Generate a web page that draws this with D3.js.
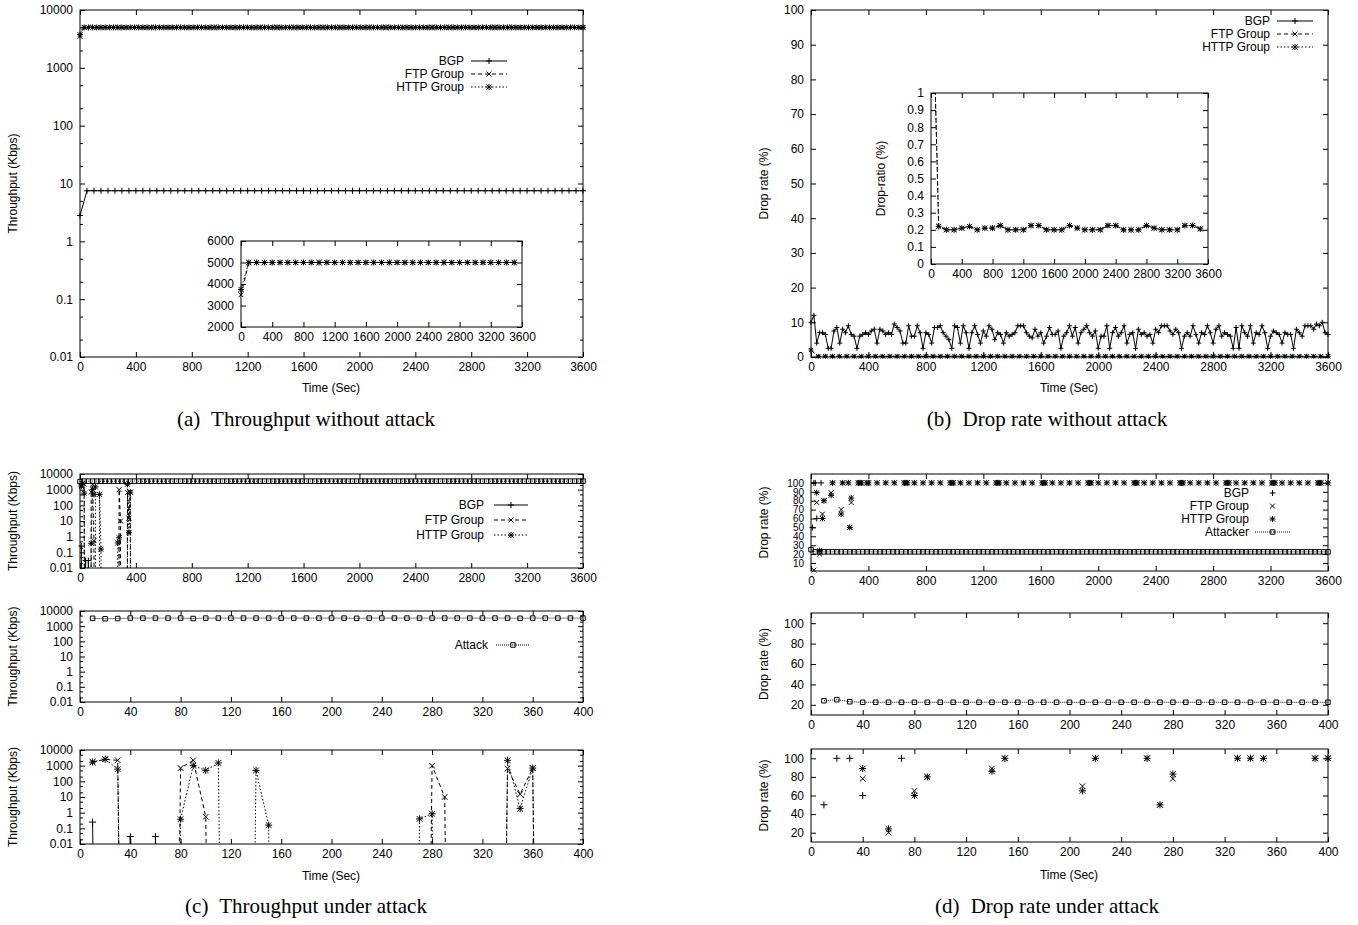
<!DOCTYPE html>
<html>
<head>
<meta charset="utf-8">
<script src="https://cdn.jsdelivr.net/npm/d3@7"></script>
<style>
  body { margin: 0; background: #fff; }
  svg text { font-family: "Liberation Sans", Arial, sans-serif; font-size: 12px; fill: #000; }
  svg text.cap { font-family: "Liberation Serif", "Times New Roman", serif; font-size: 21px; }
  svg .small text { font-size: 10px; }
</style>
</head>
<body>
<svg id="fig" width="1358" height="925"></svg>
<script>
// ---------- tick labels ----------
const ticks3600 = [0, 400, 800, 1200, 1600, 2000, 2400, 2800, 3200, 3600];
const ticks400 = [0, 40, 80, 120, 160, 200, 240, 280, 320, 360, 400];
const ticksLog = [0.01, 0.1, 1, 10, 100, 1000, 10000];
const ticksInsetA = [2000, 3000, 4000, 5000, 6000];
const ticksPct10 = [0, 10, 20, 30, 40, 50, 60, 70, 80, 90, 100];
const ticksInsetB = [0, 0.1, 0.2, 0.3, 0.4, 0.5, 0.6, 0.7, 0.8, 0.9, 1];
const ticksPctTop = [10, 20, 30, 40, 50, 60, 70, 80, 90, 100];
const ticksPct20 = [20, 40, 60, 80, 100];

// ---------- (a) throughput without attack ----------
const timeA50 = d3.range(0, 3601, 50);
const bgpA = [2.8, 7.5, 7.5, 7.5, 7.5, 7.5, 7.5, 7.5, 7.5, 7.5, 7.5, 7.5, 7.5, 7.5, 7.5, 7.5, 7.5, 7.5, 7.5, 7.5,
  7.5, 7.5, 7.5, 7.5, 7.5, 7.5, 7.5, 7.5, 7.5, 7.5, 7.5, 7.5, 7.5, 7.5, 7.5, 7.5, 7.5, 7.5, 7.5, 7.5,
  7.5, 7.5, 7.5, 7.5, 7.5, 7.5, 7.5, 7.5, 7.5, 7.5, 7.5, 7.5, 7.5, 7.5, 7.5, 7.5, 7.5, 7.5, 7.5, 7.5,
  7.5, 7.5, 7.5, 7.5, 7.5, 7.5, 7.5, 7.5, 7.5, 7.5, 7.5, 7.5, 7.5];
const timeA30 = d3.range(0, 3601, 30);
const ftpA = [3500, 5000, 5000, 5000, 5000, 5000, 5000, 5000, 5000, 5000, 5000, 5000, 5000, 5000, 5000, 5000, 5000, 5000, 5000, 5000,
  5000, 5000, 5000, 5000, 5000, 5000, 5000, 5000, 5000, 5000, 5000, 5000, 5000, 5000, 5000, 5000, 5000, 5000, 5000, 5000,
  5000, 5000, 5000, 5000, 5000, 5000, 5000, 5000, 5000, 5000, 5000, 5000, 5000, 5000, 5000, 5000, 5000, 5000, 5000, 5000,
  5000, 5000, 5000, 5000, 5000, 5000, 5000, 5000, 5000, 5000, 5000, 5000, 5000, 5000, 5000, 5000, 5000, 5000, 5000, 5000,
  5000, 5000, 5000, 5000, 5000, 5000, 5000, 5000, 5000, 5000, 5000, 5000, 5000, 5000, 5000, 5000, 5000, 5000, 5000, 5000,
  5000, 5000, 5000, 5000, 5000, 5000, 5000, 5000, 5000, 5000, 5000, 5000, 5000, 5000, 5000, 5000, 5000, 5000, 5000, 5000, 5000];
const httpA = [3750, 5000, 5000, 5000, 5000, 5000, 5000, 5000, 5000, 5000, 5000, 5000, 5000, 5000, 5000, 5000, 5000, 5000, 5000, 5000,
  5000, 5000, 5000, 5000, 5000, 5000, 5000, 5000, 5000, 5000, 5000, 5000, 5000, 5000, 5000, 5000, 5000, 5000, 5000, 5000,
  5000, 5000, 5000, 5000, 5000, 5000, 5000, 5000, 5000, 5000, 5000, 5000, 5000, 5000, 5000, 5000, 5000, 5000, 5000, 5000,
  5000, 5000, 5000, 5000, 5000, 5000, 5000, 5000, 5000, 5000, 5000, 5000, 5000, 5000, 5000, 5000, 5000, 5000, 5000, 5000,
  5000, 5000, 5000, 5000, 5000, 5000, 5000, 5000, 5000, 5000, 5000, 5000, 5000, 5000, 5000, 5000, 5000, 5000, 5000, 5000,
  5000, 5000, 5000, 5000, 5000, 5000, 5000, 5000, 5000, 5000, 5000, 5000, 5000, 5000, 5000, 5000, 5000, 5000, 5000, 5000, 5000];
// inset of (a)
const timeInset = d3.range(0, 3501, 100);
const ftpInsetA = [3500, 5000, 5000, 5000, 5000, 5000, 5000, 5000, 5000, 5000, 5000, 5000, 5000, 5000, 5000, 5000, 5000, 5000,
  5000, 5000, 5000, 5000, 5000, 5000, 5000, 5000, 5000, 5000, 5000, 5000, 5000, 5000, 5000, 5000, 5000, 5000];
const httpInsetA = [3750, 5000, 5000, 5000, 5000, 5000, 5000, 5000, 5000, 5000, 5000, 5000, 5000, 5000, 5000, 5000, 5000, 5000,
  5000, 5000, 5000, 5000, 5000, 5000, 5000, 5000, 5000, 5000, 5000, 5000, 5000, 5000, 5000, 5000, 5000, 5000];

// ---------- (b) drop rate without attack ----------
const timeB20 = d3.range(0, 3601, 20);
const bgpB = [10, 12, 4, 7, 7, 6.5, 2.5, 2.5, 7.5, 8.5, 4, 8, 7, 9, 6.5, 6, 2.5, 6, 6.5, 7,
  6.5, 7.5, 8, 4, 8, 7.5, 6.5, 7, 6.5, 9.5, 8.5, 7.5, 4, 4, 9, 6, 6, 9, 7, 2.5,
  7, 6.5, 4, 8.5, 8.5, 9, 7, 6, 5, 2.5, 9, 8.5, 4, 9, 7, 2.5, 7, 9, 6.5, 4,
  7.5, 6, 9, 8, 5, 7, 6.5, 4, 7, 6, 6.5, 7, 9, 9, 9, 7, 6, 5.5, 8, 6,
  7, 4, 6, 8.5, 6.5, 6.5, 7.5, 2.5, 6, 7, 9, 6, 8.5, 4, 7, 8, 9, 7, 6, 7.5,
  2.5, 6, 6, 9, 2.5, 7, 8.5, 6, 7, 9, 4, 6.5, 7, 2.5, 8, 6.5, 7, 6, 6.5, 4,
  8, 7, 9, 9, 9, 7.5, 6.5, 8, 7, 2.5, 6, 7, 6, 9, 6.5, 4, 7, 6.5, 9, 7,
  4, 8, 9, 6, 7, 6.5, 6, 2.5, 8.5, 2.5, 9, 7, 6, 9, 4, 7, 6.5, 9, 7, 2.5,
  6, 7.5, 7, 6.5, 4, 7, 6.5, 6.5, 2.5, 8, 7, 6, 9, 9, 9, 8, 9.5, 9, 10, 7, 6.5];
const timeB50 = d3.range(0, 3601, 50);
const ftpB = [2, 0.2, 0.2, 0.2, 0.2, 0.2, 0.2, 0.2, 0.2, 0.2, 0.2, 0.2, 0.2, 0.2, 0.2, 0.2, 0.2, 0.2, 0.2, 0.2,
  0.2, 0.2, 0.2, 0.2, 0.2, 0.2, 0.2, 0.2, 0.2, 0.2, 0.2, 0.2, 0.2, 0.2, 0.2, 0.2, 0.2, 0.2, 0.2, 0.2,
  0.2, 0.2, 0.2, 0.2, 0.2, 0.2, 0.2, 0.2, 0.2, 0.2, 0.2, 0.2, 0.2, 0.2, 0.2, 0.2, 0.2, 0.2, 0.2, 0.2,
  0.2, 0.2, 0.2, 0.2, 0.2, 0.2, 0.2, 0.2, 0.2, 0.2, 0.2, 0.2, 0.2];
const httpB = [2, 0.2, 0.2, 0.2, 0.2, 0.2, 0.2, 0.2, 0.2, 0.2, 0.2, 0.2, 0.2, 0.2, 0.2, 0.2, 0.2, 0.2, 0.2, 0.2,
  0.2, 0.2, 0.2, 0.2, 0.2, 0.2, 0.2, 0.2, 0.2, 0.2, 0.2, 0.2, 0.2, 0.2, 0.2, 0.2, 0.2, 0.2, 0.2, 0.2,
  0.2, 0.2, 0.2, 0.2, 0.2, 0.2, 0.2, 0.2, 0.2, 0.2, 0.2, 0.2, 0.2, 0.2, 0.2, 0.2, 0.2, 0.2, 0.2, 0.2,
  0.2, 0.2, 0.2, 0.2, 0.2, 0.2, 0.2, 0.2, 0.2, 0.2, 0.2, 0.2, 0.2];
// inset of (b)
const ftpInsetB = [2, 0.22, 0.2, 0.2, 0.21, 0.22, 0.2, 0.21, 0.21, 0.225, 0.2, 0.2, 0.2, 0.225, 0.225, 0.2, 0.2, 0.2,
  0.225, 0.21, 0.2, 0.2, 0.2, 0.225, 0.225, 0.2, 0.2, 0.2, 0.225, 0.21, 0.2, 0.2, 0.2, 0.225, 0.225, 0.205];
const httpInsetB = [2, 0.22, 0.2, 0.2, 0.21, 0.22, 0.2, 0.21, 0.21, 0.225, 0.2, 0.2, 0.2, 0.225, 0.225, 0.2, 0.2, 0.2,
  0.225, 0.21, 0.2, 0.2, 0.2, 0.225, 0.225, 0.2, 0.2, 0.2, 0.225, 0.21, 0.2, 0.2, 0.2, 0.225, 0.225, 0.205];

// ---------- (c) throughput under attack (0 = nothing received) ----------
const timeC10 = d3.range(10, 401, 10);
const bgpC = [0.25, 0, 0, 0.03, 0, 0.03, 0, 0, 0, 0, 0, 0, 0, 0, 0, 0, 0, 0, 0, 0,
  0, 0, 0, 0, 0, 0, 0, 0, 0, 0, 0, 0, 0, 0, 0, 0, 0, 0, 0, 0];
const ftpC = [1700, 2500, 2200, 0, 0, 0, 0, 700, 2200, 0.55, 0, 0, 0, 0, 0, 0, 0, 0, 0, 0,
  0, 0, 0, 0, 0, 0, 0, 1000, 10, 0, 0, 0, 0, 650, 15, 700, 0, 0, 0, 0];
const httpC = [1700, 2600, 600, 0, 0, 0, 0, 0.38, 1000, 500, 1500, 0, 0, 500, 0.16, 0, 0, 0, 0, 0,
  0, 0, 0, 0, 0, 0, 0.4, 0.85, 0, 0, 0, 0, 0, 2200, 1.8, 700, 0, 0, 0, 0];
const attackC = [3300, 3100, 3200, 3400, 3400, 3400, 3400, 3400, 3200, 3400, 3400, 3400, 3400, 3400, 3400, 3400, 3400, 3400, 3400, 3400,
  3400, 3300, 3400, 3400, 3400, 3400, 3400, 3400, 3400, 3400, 3400, 3400, 3400, 3400, 3300, 3400, 3400, 3400, 3400, 3400];
const timeTop30 = d3.range(0, 3601, 30);
const attackCTop = [3300, 3500, 3500, 3500, 3500, 3500, 3500, 3500, 3500, 3500, 3500, 3500, 3500, 3500, 3500, 3500, 3500, 3500, 3500, 3500,
  3500, 3500, 3500, 3500, 3500, 3500, 3500, 3500, 3500, 3500, 3500, 3500, 3500, 3500, 3500, 3500, 3500, 3500, 3500, 3500,
  3500, 3500, 3500, 3500, 3500, 3500, 3500, 3500, 3500, 3500, 3500, 3500, 3500, 3500, 3500, 3500, 3500, 3500, 3500, 3500,
  3500, 3500, 3500, 3500, 3500, 3500, 3500, 3500, 3500, 3500, 3500, 3500, 3500, 3500, 3500, 3500, 3500, 3500, 3500, 3500,
  3500, 3500, 3500, 3500, 3500, 3500, 3500, 3500, 3500, 3500, 3500, 3500, 3500, 3500, 3500, 3500, 3500, 3500, 3500, 3500,
  3500, 3500, 3500, 3500, 3500, 3500, 3500, 3500, 3500, 3500, 3500, 3500, 3500, 3500, 3500, 3500, 3500, 3500, 3500, 3500, 3500];

// ---------- (d) drop rate under attack, [time, %] ----------
const dropBgpD = [[10, 50], [20, 100], [30, 100], [40, 60], [70, 100]];
const dropFtpD = [[20, 2], [40, 78], [60, 20], [80, 65], [90, 80], [140, 89], [150, 100], [210, 70], [220, 100],
  [260, 100], [270, 50], [280, 78], [330, 100], [340, 100], [350, 100], [390, 100], [400, 100]];
const dropHttpD = [[40, 89], [60, 24], [80, 60], [90, 80], [140, 86], [150, 100], [210, 65], [220, 100],
  [260, 100], [270, 50], [280, 83], [330, 100], [340, 100], [350, 100], [390, 100], [400, 100]];
// after 400 s both groups lose everything
const dropSaturated = [[460, 100], [520, 100], [580, 100], [650, 100], [660, 100], [670, 100], [720, 100], [780, 100],
  [840, 100], [900, 100], [970, 100], [980, 100], [990, 100], [1040, 100], [1100, 100], [1160, 100], [1220, 100],
  [1290, 100], [1300, 100], [1310, 100], [1360, 100], [1420, 100], [1480, 100], [1540, 100], [1610, 100], [1620, 100],
  [1630, 100], [1680, 100], [1740, 100], [1800, 100], [1860, 100], [1930, 100], [1940, 100], [1950, 100], [2000, 100],
  [2060, 100], [2120, 100], [2180, 100], [2250, 100], [2260, 100], [2270, 100], [2320, 100], [2380, 100], [2440, 100],
  [2500, 100], [2570, 100], [2580, 100], [2590, 100], [2640, 100], [2700, 100], [2760, 100], [2820, 100], [2890, 100],
  [2900, 100], [2910, 100], [2960, 100], [3020, 100], [3080, 100], [3140, 100], [3210, 100], [3220, 100], [3230, 100],
  [3280, 100], [3340, 100], [3400, 100], [3460, 100], [3530, 100], [3540, 100], [3550, 100], [3600, 100]];
const attackerD = [24, 25, 23, 22.5, 22.5, 22.5, 22.5, 22.5, 22.5, 22.5, 22.5, 22.5, 22.5, 22.5, 22.5, 22.5, 22.5, 22.5, 22.5, 22.5,
  22.5, 22.5, 22.5, 22.5, 22.5, 22.5, 22.5, 22.5, 22.5, 22.5, 22.5, 22.5, 22.5, 22.5, 22.5, 22.5, 22.5, 22.5, 22.5, 22.5];
const attackerDTop = [25, 22.5, 22.5, 22.5, 22.5, 22.5, 22.5, 22.5, 22.5, 22.5, 22.5, 22.5, 22.5, 22.5, 22.5, 22.5, 22.5, 22.5, 22.5, 22.5,
  22.5, 22.5, 22.5, 22.5, 22.5, 22.5, 22.5, 22.5, 22.5, 22.5, 22.5, 22.5, 22.5, 22.5, 22.5, 22.5, 22.5, 22.5, 22.5, 22.5,
  22.5, 22.5, 22.5, 22.5, 22.5, 22.5, 22.5, 22.5, 22.5, 22.5, 22.5, 22.5, 22.5, 22.5, 22.5, 22.5, 22.5, 22.5, 22.5, 22.5,
  22.5, 22.5, 22.5, 22.5, 22.5, 22.5, 22.5, 22.5, 22.5, 22.5, 22.5, 22.5, 22.5, 22.5, 22.5, 22.5, 22.5, 22.5, 22.5, 22.5,
  22.5, 22.5, 22.5, 22.5, 22.5, 22.5, 22.5, 22.5, 22.5, 22.5, 22.5, 22.5, 22.5, 22.5, 22.5, 22.5, 22.5, 22.5, 22.5, 22.5,
  22.5, 22.5, 22.5, 22.5, 22.5, 22.5, 22.5, 22.5, 22.5, 22.5, 22.5, 22.5, 22.5, 22.5, 22.5, 22.5, 22.5, 22.5, 22.5, 22.5, 22.5];

// ---------- drawing ----------
const svg = d3.select("#fig");
const FLOOR = 1e-60;   // zero throughput drawn far below the log axis
const zip = (ts, vs) => ts.map((t, i) => [t, vs[i]]);

const STYLE = {
  bgp: { mark: "plus", dash: null },
  ftp: { mark: "cross", dash: "4,3" },
  http: { mark: "star", dash: "1.5,2" },
  attack: { mark: "square", dash: "1,1" }
};

function markerPath(type, s) {
  const h = s / 2;
  const plus = `M${-h},0H${h}M0,${-h}V${h}`;
  const cross = `M${-h * 0.8},${-h * 0.8}L${h * 0.8},${h * 0.8}M${-h * 0.8},${h * 0.8}L${h * 0.8},${-h * 0.8}`;
  if (type === "plus") return plus;
  if (type === "cross") return cross;
  if (type === "star") return plus + cross;
  return `M${-h * 0.75},${-h * 0.75}H${h * 0.75}V${h * 0.75}H${-h * 0.75}Z`;
}

let clipCount = 0;
function panel(o) {
  const x = d3.scaleLinear().domain(o.xd).range([o.x0, o.x1]);
  const y = (o.log ? d3.scaleLog() : d3.scaleLinear()).domain(o.yd).range([o.y1, o.y0]);
  const g = svg.append("g");
  const cid = "clip" + (clipCount++);
  g.append("clipPath").attr("id", cid).append("rect")
    .attr("x", o.x0).attr("y", o.y0).attr("width", o.x1 - o.x0).attr("height", o.y1 - o.y0);

  const fmt = d => String(d);
  const axes = g.append("g");
  axes.append("g").attr("transform", `translate(0,${o.y1})`)
    .call(d3.axisBottom(x).tickValues(o.xt).tickSize(-5).tickPadding(5).tickFormat(fmt));
  axes.append("g").attr("transform", `translate(0,${o.y0})`)
    .call(d3.axisTop(x).tickValues(o.xt).tickSize(-5).tickFormat(""));
  const yAxis = axes.append("g").attr("transform", `translate(${o.x0},0)`)
    .call(d3.axisLeft(y).tickValues(o.yt).tickSize(-5).tickPadding(7).tickFormat(fmt));
  if (o.smallY) yAxis.classed("small", true);
  axes.append("g").attr("transform", `translate(${o.x1},0)`)
    .call(d3.axisRight(y).tickValues(o.yt).tickSize(-5).tickFormat(""));
  if (o.log) {
    const minor = [];
    o.yt.forEach(v => { [2, 5].forEach(m => { if (v * m < o.yd[1]) minor.push(v * m); }); });
    axes.append("g").attr("transform", `translate(${o.x0},0)`)
      .call(d3.axisLeft(y).tickValues(minor).tickSize(-3).tickFormat(""));
    axes.append("g").attr("transform", `translate(${o.x1},0)`)
      .call(d3.axisRight(y).tickValues(minor).tickSize(-3).tickFormat(""));
  }
  axes.selectAll(".domain").remove();
  axes.selectAll("g").attr("font-size", null).attr("font-family", null);

  g.append("rect").attr("x", o.x0).attr("y", o.y0)
    .attr("width", o.x1 - o.x0).attr("height", o.y1 - o.y0)
    .attr("fill", "none").attr("stroke", "#000").attr("stroke-width", 1);

  const plot = g.append("g").attr("clip-path", `url(#${cid})`);
  const marks = g.append("g");

  if (o.ylabel) {
    g.append("text").attr("transform", `translate(${o.ylx},${(o.y0 + o.y1) / 2}) rotate(-90)`)
      .attr("text-anchor", "middle").attr("dy", "0.35em").text(o.ylabel);
  }
  return { x, y, plot, marks, o };
}

function series(p, pts, st, opt = {}) {
  const size = opt.size || 6;
  if (opt.line !== false) {
    p.plot.append("path").datum(pts)
      .attr("fill", "none").attr("stroke", "#000").attr("stroke-width", 1)
      .attr("stroke-dasharray", st.dash)
      .attr("d", d3.line().x(d => p.x(d[0])).y(d => p.y(Math.max(d[1], FLOOR))));
  }
  const yd = p.o.yd, xd = p.o.xd;
  const vis = pts.filter(d => d[1] > 0 && d[1] >= yd[0] && d[1] <= yd[1] && d[0] >= xd[0] && d[0] <= xd[1]);
  p.marks.selectAll(null).data(vis).join("path")
    .attr("transform", d => `translate(${p.x(d[0])},${p.y(d[1])})`)
    .attr("d", markerPath(st.mark, size))
    .attr("fill", "none").attr("stroke", "#000").attr("stroke-width", 1);
}

function legend(items, xText, y0, dy, lx0, lx1) {
  items.forEach((it, i) => {
    const y = y0 + i * dy;
    svg.append("text").attr("x", xText).attr("y", y).attr("dy", "0.35em")
      .attr("text-anchor", "end").text(it.label);
    if (it.line !== false) {
      svg.append("line").attr("x1", lx0).attr("x2", lx1).attr("y1", y).attr("y2", y)
        .attr("stroke", "#000").attr("stroke-width", 1).attr("stroke-dasharray", it.st.dash);
    }
    svg.append("path").attr("transform", `translate(${(lx0 + lx1) / 2},${y})`)
      .attr("d", markerPath(it.st.mark, 6)).attr("fill", "none").attr("stroke", "#000");
  });
}

function label(x, y, txt) {
  svg.append("text").attr("x", x).attr("y", y).attr("text-anchor", "middle").text(txt);
}

function caption(x, y, tag, txt) {
  const t = svg.append("text").attr("class", "cap").attr("x", x).attr("y", y).attr("text-anchor", "middle");
  t.append("tspan").text(tag);
  t.append("tspan").attr("dx", 6).text(" " + txt);
}

// ---- (a) ----
const pa = panel({ x0: 80, x1: 583, y0: 10, y1: 357, xd: [0, 3600], yd: [0.01, 10000], log: true,
  xt: ticks3600, yt: ticksLog, ylabel: "Throughput (Kbps)", ylx: 13 });
series(pa, zip(timeA50, bgpA), STYLE.bgp);
series(pa, zip(timeA30, ftpA), STYLE.ftp);
series(pa, zip(timeA30, httpA), STYLE.http);
legend([{ label: "BGP", st: STYLE.bgp }, { label: "FTP Group", st: STYLE.ftp }, { label: "HTTP Group", st: STYLE.http }],
  464, 61, 13, 471, 507);
const pai = panel({ x0: 241, x1: 522, y0: 241, y1: 327, xd: [0, 3600], yd: [2000, 6000],
  xt: ticks3600, yt: ticksInsetA });
series(pai, zip(timeInset, ftpInsetA), STYLE.ftp);
series(pai, zip(timeInset, httpInsetA), STYLE.http);
label(331, 392, "Time (Sec)");
caption(306, 426, "(a)", "Throughput without attack");

// ---- (b) ----
const pb = panel({ x0: 811, x1: 1328, y0: 10, y1: 357, xd: [0, 3600], yd: [0, 100],
  xt: ticks3600, yt: ticksPct10, ylabel: "Drop rate (%)", ylx: 764 });
series(pb, zip(timeB20, bgpB), STYLE.bgp, { size: 5 });
series(pb, zip(timeB50, ftpB), STYLE.ftp, { size: 5 });
series(pb, zip(timeB50, httpB), STYLE.http, { size: 5 });
legend([{ label: "BGP", st: STYLE.bgp }, { label: "FTP Group", st: STYLE.ftp }, { label: "HTTP Group", st: STYLE.http }],
  1270, 21, 13, 1277, 1313);
const pbi = panel({ x0: 931, x1: 1208, y0: 93, y1: 264, xd: [0, 3600], yd: [0, 1],
  xt: ticks3600, yt: ticksInsetB, ylabel: "Drop-ratio (%)", ylx: 881 });
series(pbi, zip(timeInset, ftpInsetB), STYLE.ftp);
series(pbi, zip(timeInset, httpInsetB), STYLE.http);
label(1069, 392, "Time (Sec)");
caption(1047, 426, "(b)", "Drop rate without attack");

// ---- (c) ----
const pc1 = panel({ x0: 80, x1: 583, y0: 474, y1: 568, xd: [0, 3600], yd: [0.01, 10000], log: true,
  xt: ticks3600, yt: ticksLog, ylabel: "Throughput (Kbps)", ylx: 13 });
series(pc1, zip(timeTop30, attackCTop), STYLE.attack, { size: 6 });
series(pc1, zip(timeC10, bgpC), STYLE.bgp);
series(pc1, zip(timeC10, ftpC), STYLE.ftp);
series(pc1, zip(timeC10, httpC), STYLE.http);
legend([{ label: "BGP", st: STYLE.bgp }, { label: "FTP Group", st: STYLE.ftp }, { label: "HTTP Group", st: STYLE.http }],
  484, 505, 15, 494, 528);

const pc2 = panel({ x0: 80, x1: 583, y0: 611, y1: 702, xd: [0, 400], yd: [0.01, 10000], log: true,
  xt: ticks400, yt: ticksLog, ylabel: "Throughput (Kbps)", ylx: 13 });
series(pc2, zip(timeC10, attackC), STYLE.attack, { size: 6 });
legend([{ label: "Attack", st: STYLE.attack }], 488, 645, 13, 496, 530);

const pc3 = panel({ x0: 80, x1: 583, y0: 750, y1: 844, xd: [0, 400], yd: [0.01, 10000], log: true,
  xt: ticks400, yt: ticksLog, ylabel: "Throughput (Kbps)", ylx: 13 });
series(pc3, zip(timeC10, bgpC), STYLE.bgp, { size: 7 });
series(pc3, zip(timeC10, ftpC), STYLE.ftp, { size: 7 });
series(pc3, zip(timeC10, httpC), STYLE.http, { size: 7 });
label(331, 880, "Time (Sec)");
caption(306, 913, "(c)", "Throughput under attack");

// ---- (d) ----
const pd1 = panel({ x0: 811, x1: 1328, y0: 474, y1: 571, xd: [0, 3600], yd: [1, 110], smallY: true,
  xt: ticks3600, yt: ticksPctTop, ylabel: "Drop rate (%)", ylx: 764 });
series(pd1, zip(timeTop30, attackerDTop), STYLE.attack, { size: 6 });
series(pd1, dropBgpD, STYLE.bgp, { line: false });
series(pd1, dropFtpD.concat(dropSaturated), STYLE.ftp, { line: false });
series(pd1, dropHttpD.concat(dropSaturated), STYLE.http, { line: false });
legend([{ label: "BGP", st: STYLE.bgp, line: false }, { label: "FTP Group", st: STYLE.ftp, line: false },
  { label: "HTTP Group", st: STYLE.http, line: false }, { label: "Attacker", st: STYLE.attack }],
  1249, 493, 13, 1255, 1290);

const pd2 = panel({ x0: 811, x1: 1328, y0: 613, y1: 715, xd: [0, 400], yd: [10, 110],
  xt: ticks400, yt: ticksPct20, ylabel: "Drop rate (%)", ylx: 764 });
series(pd2, zip(timeC10, attackerD), STYLE.attack, { size: 6 });

const pd3 = panel({ x0: 811, x1: 1328, y0: 749, y1: 842, xd: [0, 400], yd: [10, 110],
  xt: ticks400, yt: ticksPct20, ylabel: "Drop rate (%)", ylx: 764 });
series(pd3, dropBgpD, STYLE.bgp, { line: false, size: 7 });
series(pd3, dropFtpD, STYLE.ftp, { line: false, size: 7 });
series(pd3, dropHttpD, STYLE.http, { line: false, size: 7 });
label(1069, 879, "Time (Sec)");
caption(1047, 913, "(d)", "Drop rate under attack");
</script>
</body>
</html>
